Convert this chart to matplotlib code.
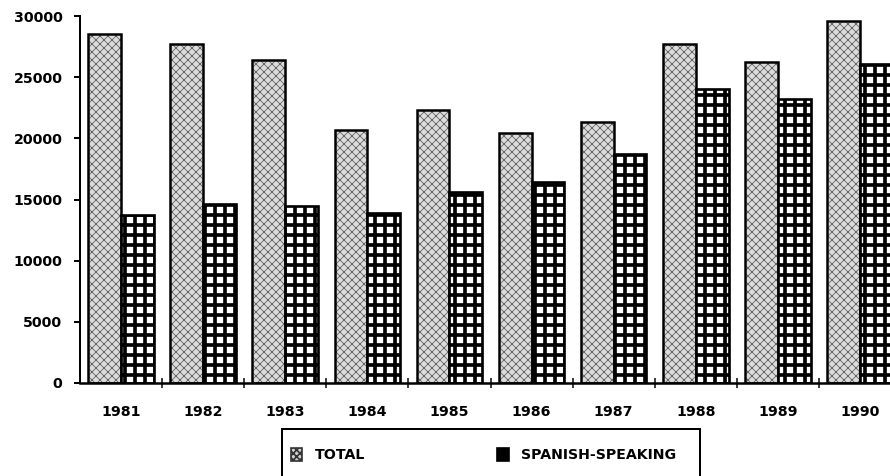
import matplotlib
matplotlib.use("Agg")
import matplotlib.pyplot as plt
from matplotlib.patches import Rectangle, Patch
import numpy as np

years = ["1981", "1982", "1983", "1984", "1985", "1986", "1987", "1988", "1989", "1990"]
total = [28500, 27700, 26400, 20700, 22300, 20400, 21300, 27700, 26200, 29600]
spanish = [13700, 14600, 14500, 13900, 15600, 16400, 18700, 24000, 23200, 26100]
yticks = [0, 5000, 10000, 15000, 20000, 25000, 30000]

W, H, DPI = 890, 476, 120
plt.rcParams["font.family"] = ["DejaVu Sans"]
plt.rcParams["font.weight"] = "bold"

fig = plt.figure(figsize=(W / DPI, H / DPI), dpi=DPI)
ax = fig.add_axes([80 / W, 1 - 383 / H, (901 - 80) / W, (383 - 16) / H])

x = np.arange(len(years))
bw = 0.4

# total bars: grey stipple
with plt.rc_context({"hatch.linewidth": 0.5}):
    ax.bar(x - bw / 2, total, bw, facecolor="#dcdcdc", edgecolor="#666666",
           hatch="xxxxx", linewidth=0)
    h1 = Patch(facecolor="#d0d0d0", edgecolor="#333333", hatch="xxxxxx", linewidth=1.0)
ax.bar(x - bw / 2, total, bw, fill=False, edgecolor="black", linewidth=1.5)

# spanish-speaking bars: black grid
with plt.rc_context({"hatch.linewidth": 2.2}):
    ax.bar(x + bw / 2, spanish, bw, facecolor="white", edgecolor="black",
           hatch="++", linewidth=1.6)
    h2 = Patch(facecolor="black", edgecolor="black", linewidth=1.0)

ax.set_xlim(-0.5, len(years) - 0.5)
ax.set_ylim(0, 30000)
ax.set_yticks(yticks)
ax.set_yticklabels([str(v) for v in yticks], fontsize=8.5, fontweight="bold")
ax.set_xticks(x)
ax.set_xticklabels(years, fontsize=8.5, fontweight="bold")
ax.set_xticks(x[:-1] + 0.5, minor=True)

ax.tick_params(axis="x", which="major", length=0, pad=13)
ax.tick_params(axis="x", which="minor", direction="inout", length=6.5, width=0.9)
ax.tick_params(axis="y", direction="out", length=3.5, width=1.2, pad=7)

for s in ["top", "right"]:
    ax.spines[s].set_visible(False)
ax.spines["left"].set_linewidth(1.2)
ax.spines["bottom"].set_linewidth(1.5)

# legend box (runs off the bottom edge)
fig.patches.append(Rectangle((282 / W, -0.05), (700 - 282) / W, 0.05 + 1 - 429 / H,
                             transform=fig.transFigure, fill=False,
                             edgecolor="black", linewidth=1.2, clip_on=False))
fig.legend([h1, h2], ["TOTAL", "SPANISH-SPEAKING"], loc="center left",
           bbox_to_anchor=(291 / W, 1 - 455 / H), ncol=2, frameon=False,
           borderpad=0, borderaxespad=0, handlelength=0.8, handleheight=1.0,
           handletextpad=0.9, columnspacing=9.3,
           prop={"size": 8.5, "weight": "bold"})

fig.savefig("out.png", dpi=DPI)
